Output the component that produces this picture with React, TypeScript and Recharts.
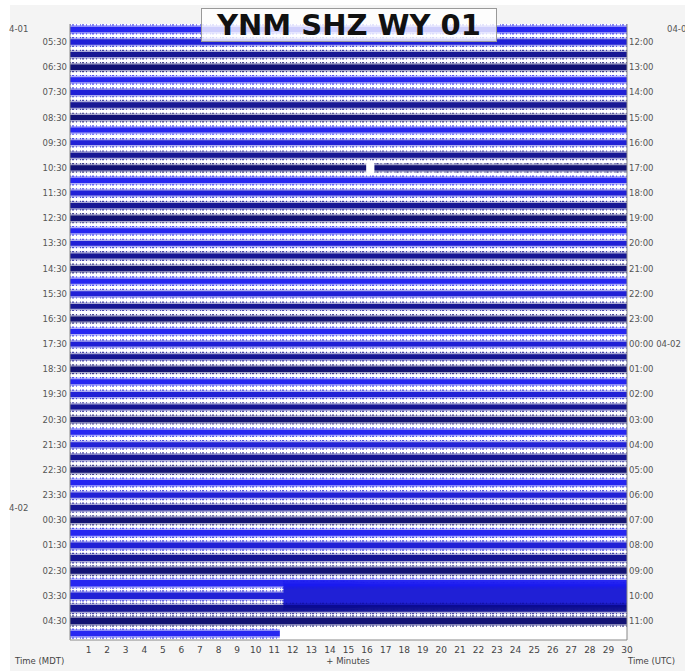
import React from "react";
import { ComposedChart, Area, XAxis, YAxis } from "recharts";

// tick labels, one per hour (rows 1, 3, ... 47)
const LEFT_TIMES = ["05:30", "06:30", "07:30", "08:30", "09:30", "10:30", "11:30", "12:30", "13:30", "14:30", "15:30", "16:30", "17:30", "18:30", "19:30", "20:30", "21:30", "22:30", "23:30", "00:30", "01:30", "02:30", "03:30", "04:30"];
const RIGHT_TIMES = ["12:00", "13:00", "14:00", "15:00", "16:00", "17:00", "18:00", "19:00", "20:00", "21:00", "22:00", "23:00", "00:00 04-02", "01:00", "02:00", "03:00", "04:00", "05:00", "06:00", "07:00", "08:00", "09:00", "10:00", "11:00"];
const LEFT_DATES = [{ row: 0, label: "4-01" }, { row: 38, label: "4-02" }];
const RIGHT_DATES = [{ row: 0, label: "04-01" }];
const MINUTE_TICKS = [1, 2, 3, 4, 5, 6, 7, 8, 9, 10, 11, 12, 13, 14, 15, 16, 17, 18, 19, 20, 21, 22, 23, 24, 25, 26, 27, 28, 29, 30];

const TRACE_COLORS = ["#1a1af0", "#1414d4", "#0b0b8e", "#06066c"];

// half-width of each 30 min trace (in row units), rows 05:00 .. 05:00 next day
const RMS = [0.22, 0.22, 0.2, 0.22, 0.2, 0.21, 0.22, 0.2, 0.2, 0.19, 0.2, 0.2, 0.21, 0.2, 0.2, 0.22, 0.2, 0.19, 0.2, 0.21, 0.2, 0.2, 0.19, 0.2, 0.2, 0.19, 0.2, 0.21, 0.2, 0.2, 0.2, 0.21, 0.2, 0.2, 0.21, 0.22, 0.21, 0.21, 0.22, 0.22, 0.22, 0.23, 0.24, 0.25, 0.26, 0.26, 0.27, 0.26, 0.22];
const PEAK = [0.36, 0.35, 0.34, 0.36, 0.34, 0.35, 0.36, 0.34, 0.33, 0.33, 0.34, 0.34, 0.35, 0.34, 0.34, 0.36, 0.34, 0.33, 0.35, 0.35, 0.34, 0.34, 0.33, 0.34, 0.34, 0.33, 0.34, 0.35, 0.34, 0.34, 0.34, 0.35, 0.34, 0.34, 0.35, 0.36, 0.35, 0.35, 0.36, 0.36, 0.36, 0.37, 0.38, 0.39, 0.4, 0.4, 0.41, 0.4, 0.36];

// sample minutes along each row (11.5 twice: step into the burst)
const SAMPLE_MIN = [0, 11.3, 11.5, 11.5, 15, 15.95, 16.2, 16.4, 20, 30];
const GAP_ROW = 11;
const GAP = [15.95, 16.4];
const LAST_ROW = 48;
const LAST_ROW_END = 11.3;
const BURST_ROW = 45;
const BURST_EARLY = [0.98, 1.14];
const BURST_LATE = [0.92, 1.05];

const table = SAMPLE_MIN.map((m, k) => {
  const row: Record<string, any> = { m };
  RMS.forEach((rms, i) => {
    let r = rms;
    let p = PEAK[i];
    if ((i === LAST_ROW && m > LAST_ROW_END) || (i === GAP_ROW && m > GAP[0] && m < GAP[1])) {
      row[`p${i}`] = null;
      row[`c${i}`] = null;
      return;
    }
    if (i === BURST_ROW && k >= 3) [r, p] = m <= 15 ? BURST_EARLY : BURST_LATE;
    row[`p${i}`] = [i - p, i + p];
    row[`c${i}`] = [i - r, i + r];
  });
  return row;
});

// burst trace first so the neighbouring traces sit on top of it
const drawOrder = [BURST_ROW, ...RMS.map((_, i) => i).filter((i) => i !== BURST_ROW)];
const minorTicks = Array.from({ length: 181 }, (_, i) => i / 6);
const hourRows = LEFT_TIMES.map((_, i) => 2 * i + 1);
const Y_DOMAIN = [-0.43, 48.51];
const FONT = "DejaVu Sans";

function LeftTick({ y, payload }: any) {
  const v = payload.value;
  const d = LEFT_DATES.find((e) => e.row === v);
  if (d) return <text x={9} y={y} dy={3} fontSize={8.5} fill="#555" fontFamily={FONT}>{d.label}</text>;
  return <text x={67} y={y} dy={3} fontSize={8.5} fill="#555" fontFamily={FONT} textAnchor="end">{LEFT_TIMES[(v - 1) / 2]}</text>;
}

function RightTick({ y, payload }: any) {
  const v = payload.value;
  const d = RIGHT_DATES.find((e) => e.row === v);
  if (d) return <text x={667} y={y} dy={3} fontSize={8.5} fill="#555" fontFamily={FONT}>{d.label}</text>;
  return <text x={629} y={y} dy={3} fontSize={8.5} fill="#555" fontFamily={FONT}>{RIGHT_TIMES[(v - 1) / 2]}</text>;
}

export default function App() {
  return (
    <div style={{ position: "relative", width: 685, height: 671, background: "#fff", fontFamily: FONT }}>
      <style>{"body{margin:0}"}</style>
      <div style={{ position: "absolute", left: 10, top: 5, right: 0, bottom: 0, background: "#f4f4f4" }} />
      <div style={{ position: "absolute", left: 70, top: 24, width: 557, height: 616, background: "#fff" }} />
      <div style={{ position: "absolute", left: 0, top: 0 }}>
        <ComposedChart width={685} height={671} data={table} margin={{ top: 24, right: 0, bottom: 0, left: 0 }}>
          <XAxis xAxisId="b" dataKey="m" type="number" domain={[0, 30]} allowDataOverflow ticks={MINUTE_TICKS} interval={0} height={31} tickLine={false} tickMargin={1} axisLine={{ stroke: "#888" }} tick={{ fontSize: 9, fill: "#444", fontFamily: FONT }} />
          <XAxis xAxisId="t" orientation="top" type="number" domain={[0, 30]} allowDataOverflow ticks={MINUTE_TICKS} interval={0} height={0} mirror tickSize={5} tick={false} tickLine={{ stroke: "#666" }} axisLine={{ stroke: "#888" }} />
          <XAxis xAxisId="t2" orientation="top" type="number" domain={[0, 30]} allowDataOverflow ticks={minorTicks} interval={0} height={0} mirror tickSize={2} tick={false} tickLine={{ stroke: "#888" }} axisLine={false} />
          <XAxis xAxisId="bm" orientation="bottom" type="number" domain={[0, 30]} allowDataOverflow ticks={MINUTE_TICKS} interval={0} height={0} mirror tickSize={5} tick={false} tickLine={{ stroke: "#666" }} axisLine={false} />
          <XAxis xAxisId="bm2" orientation="bottom" type="number" domain={[0, 30]} allowDataOverflow ticks={minorTicks} interval={0} height={0} mirror tickSize={2} tick={false} tickLine={{ stroke: "#888" }} axisLine={false} />
          <YAxis yAxisId="l" type="number" domain={Y_DOMAIN} allowDataOverflow reversed width={70} ticks={[0, ...hourRows, 38]} interval={0} tickLine={false} axisLine={{ stroke: "#888" }} tick={<LeftTick />} />
          <YAxis yAxisId="r" orientation="right" type="number" domain={Y_DOMAIN} allowDataOverflow reversed width={58} ticks={[0, ...hourRows]} interval={0} tickLine={false} axisLine={{ stroke: "#888" }} tick={<RightTick />} />
          {drawOrder.flatMap((i) => {
            const color = TRACE_COLORS[i % 4];
            return [
              <Area key={`p${i}`} xAxisId="b" yAxisId="l" dataKey={`p${i}`} type="linear" fill={color} fillOpacity={0.35} stroke={color} strokeWidth={1.2} strokeDasharray="1 1 2 2 1 3" strokeOpacity={0.7} connectNulls={false} dot={false} activeDot={false} isAnimationActive={false} />,
              <Area key={`c${i}`} xAxisId="b" yAxisId="l" dataKey={`c${i}`} type="linear" fill={color} fillOpacity={0.92} stroke="none" connectNulls={false} dot={false} activeDot={false} isAnimationActive={false} />,
            ];
          })}
        </ComposedChart>
      </div>
      <div style={{ position: "absolute", left: 201, top: 8, width: 294, height: 32, background: "rgba(255,255,255,0.78)", border: "1px solid #999", display: "flex", alignItems: "center", justifyContent: "center", fontWeight: "bold", fontSize: 29, color: "#111", whiteSpace: "nowrap" }}>
        YNM SHZ WY 01
      </div>
      <div style={{ position: "absolute", left: 15, top: 656, fontSize: 8.5, color: "#444" }}>Time (MDT)</div>
      <div style={{ position: "absolute", left: 348, top: 656, fontSize: 8.5, color: "#444", transform: "translateX(-50%)" }}>+ Minutes</div>
      <div style={{ position: "absolute", left: 628, top: 656, fontSize: 8.5, color: "#444", whiteSpace: "nowrap" }}>Time (UTC)</div>
    </div>
  );
}
